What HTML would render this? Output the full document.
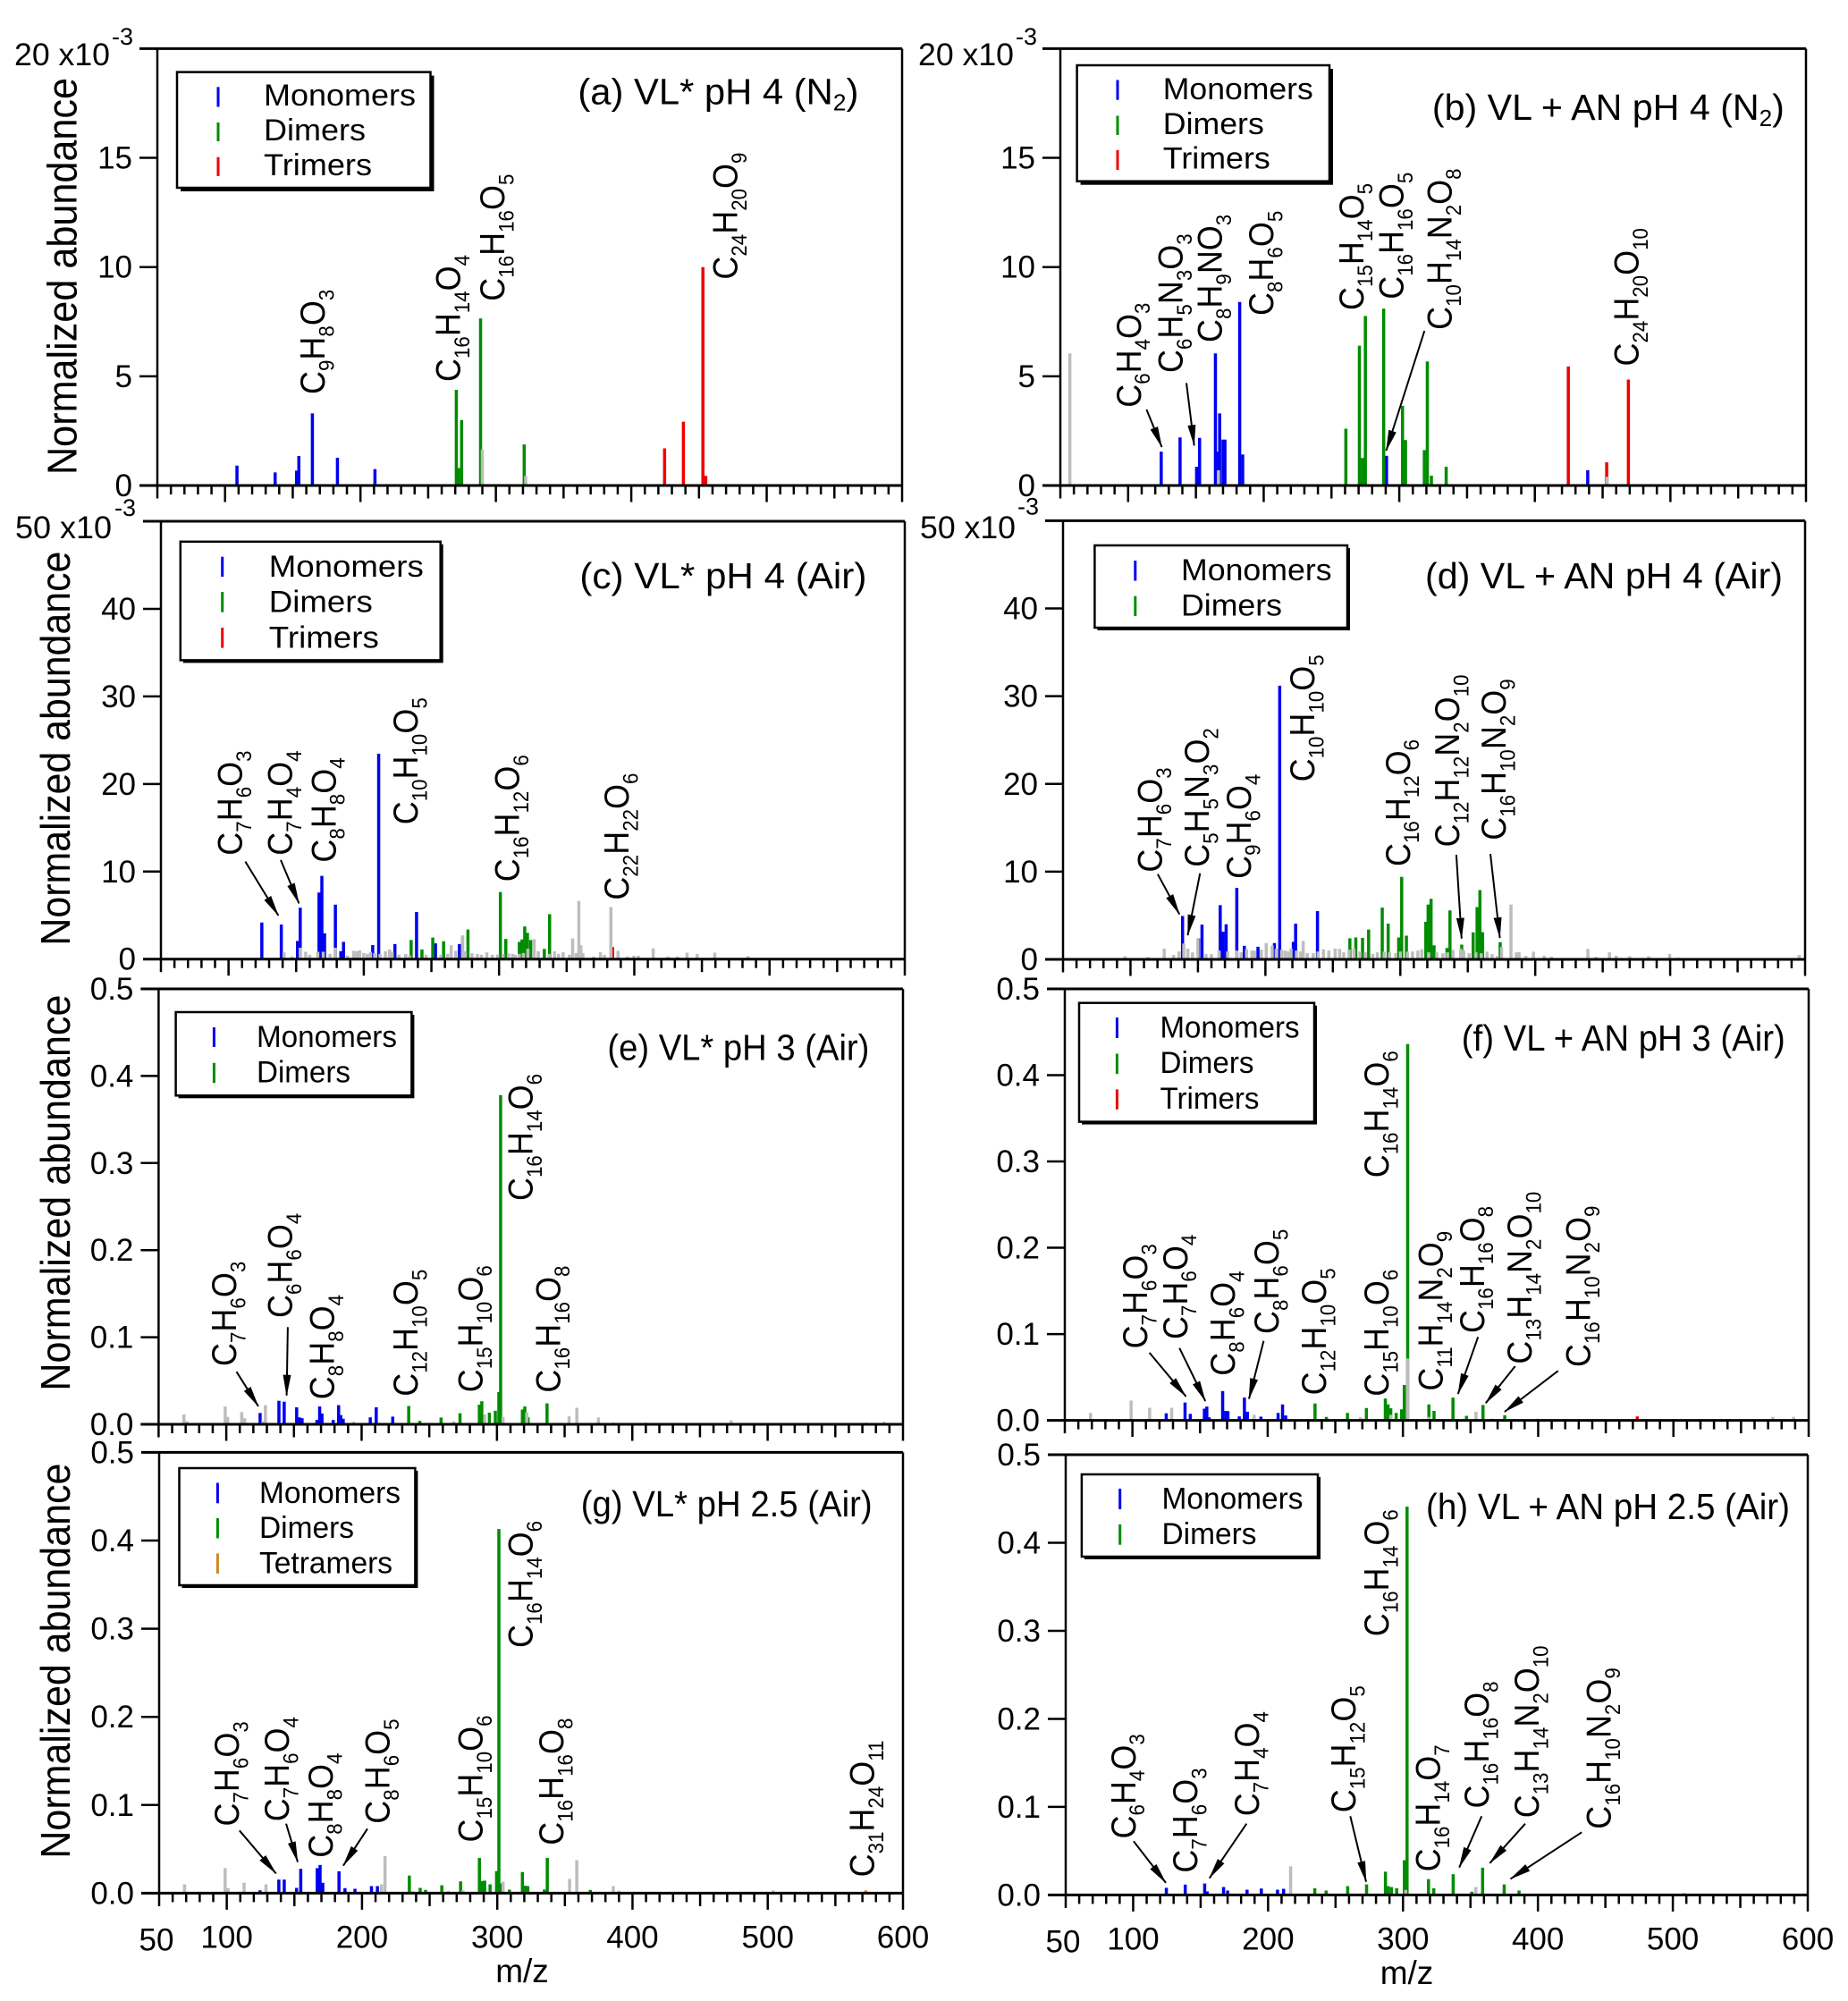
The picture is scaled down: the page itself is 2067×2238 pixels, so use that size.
<!DOCTYPE html>
<html lang="en">
<head>
<meta charset="utf-8">
<title>Normalized abundance mass spectra</title>
<style>
html,body{margin:0;padding:0;background:#fff}
svg{display:block}
text{font-family:"Liberation Sans",sans-serif;fill:#000}
.f{font-size:39px}
.s{font-size:24.2px;baseline-shift:-10px}
.lg{font-size:34px}
.t{font-size:41px}
.ts{font-size:26px;baseline-shift:-7px}
.ax{font-size:46px}
.top{font-size:35px}
.sup{font-size:27px}
.box{fill:#fff;stroke:#000;stroke-width:2.5}
.shadow{fill:#000}
.ar{stroke:#000;stroke-width:2;marker-end:url(#arrowhead)}
.mk{stroke-width:3}
</style>
</head>
<body>
<svg xmlns="http://www.w3.org/2000/svg" width="2067" height="2238" viewBox="0 0 2067 2238">
<defs><marker id="arrowhead" markerUnits="userSpaceOnUse" markerWidth="24" markerHeight="10" refX="23" refY="5" orient="auto"><polygon points="0,0.5 24,5 0,9.5"/></marker></defs>
<rect width="2067" height="2238" fill="#fff"/>
<g id="marks"></g>

<!-- Axis titles -->
<text class="ax" transform="translate(85.7 531) rotate(-90)" textLength="444" lengthAdjust="spacingAndGlyphs">Normalized abundance</text>
<text class="ax" transform="translate(77.8 1057.6) rotate(-90)" textLength="441" lengthAdjust="spacingAndGlyphs">Normalized abundance</text>
<text class="ax" transform="translate(77.8 1555.6) rotate(-90)" textLength="443" lengthAdjust="spacingAndGlyphs">Normalized abundance</text>
<text class="ax" transform="translate(77.8 2078.6) rotate(-90)" textLength="442" lengthAdjust="spacingAndGlyphs">Normalized abundance</text>
<text x="584" y="2217" font-size="37" text-anchor="middle">m/z</text>
<text x="1573.5" y="2219" font-size="37" text-anchor="middle">m/z</text>

<!-- Top-of-axis multipliers -->
<g><text class="top" x="16" y="73" textLength="107" lengthAdjust="spacingAndGlyphs">20 x10</text><text class="sup" x="125" y="50">-3</text></g>
<g><text class="top" x="1027" y="73" textLength="107" lengthAdjust="spacingAndGlyphs">20 x10</text><text class="sup" x="1136" y="50">-3</text></g>
<g><text class="top" x="17" y="602" textLength="108" lengthAdjust="spacingAndGlyphs">50 x10</text><text class="sup" x="128" y="577">-3</text></g>
<g><text class="top" x="1029" y="602" textLength="107" lengthAdjust="spacingAndGlyphs">50 x10</text><text class="sup" x="1138" y="575.5">-3</text></g>

<!-- Panel titles -->
<text class="t" x="646.4" y="116.5" textLength="314" lengthAdjust="spacingAndGlyphs">(a) VL* pH 4 (N<tspan class="ts">2</tspan>)</text>
<text class="t" x="1601.9" y="134" textLength="394" lengthAdjust="spacingAndGlyphs">(b) VL + AN pH 4 (N<tspan class="ts">2</tspan>)</text>
<text class="t" x="648.4" y="658" textLength="321" lengthAdjust="spacingAndGlyphs">(c) VL* pH 4 (Air)</text>
<text class="t" x="1594" y="658" textLength="400" lengthAdjust="spacingAndGlyphs">(d) VL + AN pH 4 (Air)</text>
<text class="t" x="679.4" y="1185.7" textLength="293" lengthAdjust="spacingAndGlyphs">(e) VL* pH 3 (Air)</text>
<text class="t" x="1634.8" y="1175" textLength="362" lengthAdjust="spacingAndGlyphs">(f) VL + AN pH 3 (Air)</text>
<text class="t" x="649.7" y="1696" textLength="326" lengthAdjust="spacingAndGlyphs">(g) VL* pH 2.5 (Air)</text>
<text class="t" x="1595" y="1699" textLength="407" lengthAdjust="spacingAndGlyphs">(h) VL + AN pH 2.5 (Air)</text>

<!-- Legends -->
<g>
<rect class="shadow" x="202" y="84.6" width="283.5" height="129.4"/><rect class="box" x="198" y="80.6" width="283.5" height="129.4"/>
<line class="mk" x1="244" x2="244" y1="97.3" y2="119.5" stroke="#0000f0"/><text class="lg" x="295" y="118" textLength="170" lengthAdjust="spacingAndGlyphs">Monomers</text>
<line class="mk" x1="244" x2="244" y1="137" y2="158" stroke="#008c00"/><text class="lg" x="295" y="157" textLength="114" lengthAdjust="spacingAndGlyphs">Dimers</text>
<line class="mk" x1="244" x2="244" y1="175.7" y2="197" stroke="#f00000"/><text class="lg" x="295" y="196" textLength="121" lengthAdjust="spacingAndGlyphs">Trimers</text>
</g>
<g>
<rect class="shadow" x="1208.6" y="77" width="282.4" height="129.7"/><rect class="box" x="1204.6" y="73" width="282.4" height="129.7"/>
<line class="mk" x1="1250" x2="1250" y1="89.5" y2="111.7" stroke="#0000f0"/><text class="lg" x="1300.8" y="111" textLength="168" lengthAdjust="spacingAndGlyphs">Monomers</text>
<line class="mk" x1="1250" x2="1250" y1="129.5" y2="151" stroke="#008c00"/><text class="lg" x="1300.8" y="150" textLength="113" lengthAdjust="spacingAndGlyphs">Dimers</text>
<line class="mk" x1="1250" x2="1250" y1="168" y2="190" stroke="#f00000"/><text class="lg" x="1300.8" y="188.7" textLength="120" lengthAdjust="spacingAndGlyphs">Trimers</text>
</g>
<g>
<rect class="shadow" x="204.8" y="608.8" width="290.9" height="132.6"/><rect class="box" x="201.8" y="605.8" width="290.9" height="132.6"/>
<line class="mk" x1="248.7" x2="248.7" y1="622.7" y2="645" stroke="#0000f0"/><text class="lg" x="300.8" y="645" textLength="173" lengthAdjust="spacingAndGlyphs">Monomers</text>
<line class="mk" x1="248.7" x2="248.7" y1="662" y2="684.7" stroke="#008c00"/><text class="lg" x="300.8" y="684.7" textLength="116" lengthAdjust="spacingAndGlyphs">Dimers</text>
<line class="mk" x1="248.7" x2="248.7" y1="702" y2="724.6" stroke="#f00000"/><text class="lg" x="300.8" y="724.3" textLength="123" lengthAdjust="spacingAndGlyphs">Trimers</text>
</g>
<g>
<rect class="shadow" x="1227.4" y="613" width="282.6" height="92"/><rect class="box" x="1224.4" y="610" width="282.6" height="92"/>
<line class="mk" x1="1269.8" x2="1269.8" y1="627" y2="649.5" stroke="#0000f0"/><text class="lg" x="1321" y="648.8" textLength="168.6" lengthAdjust="spacingAndGlyphs">Monomers</text>
<line class="mk" x1="1269.8" x2="1269.8" y1="666.7" y2="689" stroke="#008c00"/><text class="lg" x="1321" y="688.4" textLength="113" lengthAdjust="spacingAndGlyphs">Dimers</text>
</g>
<g>
<rect class="shadow" x="199.6" y="1135" width="263.8" height="93.3"/><rect class="box" x="196.6" y="1132" width="263.8" height="93.3"/>
<line class="mk" x1="239.4" x2="239.4" y1="1149" y2="1171" stroke="#0000f0"/><text class="lg" x="287" y="1171" textLength="157" lengthAdjust="spacingAndGlyphs">Monomers</text>
<line class="mk" x1="239.4" x2="239.4" y1="1188.8" y2="1211.2" stroke="#008c00"/><text class="lg" x="287" y="1210.5" textLength="105" lengthAdjust="spacingAndGlyphs">Dimers</text>
</g>
<g>
<rect class="shadow" x="1210" y="1124.7" width="263" height="132.9"/><rect class="box" x="1207" y="1121.7" width="263" height="132.9"/>
<line class="mk" x1="1249.4" x2="1249.4" y1="1138" y2="1161" stroke="#0000f0"/><text class="lg" x="1297.5" y="1160.6" textLength="156" lengthAdjust="spacingAndGlyphs">Monomers</text>
<line class="mk" x1="1249.4" x2="1249.4" y1="1178.5" y2="1201" stroke="#008c00"/><text class="lg" x="1297.5" y="1200.2" textLength="105" lengthAdjust="spacingAndGlyphs">Dimers</text>
<line class="mk" x1="1249.4" x2="1249.4" y1="1218.4" y2="1240.8" stroke="#f00000"/><text class="lg" x="1297.5" y="1240" textLength="111" lengthAdjust="spacingAndGlyphs">Trimers</text>
</g>
<g>
<rect class="shadow" x="203.5" y="1645" width="263.9" height="131"/><rect class="box" x="200.5" y="1642" width="263.9" height="131"/>
<line class="mk" x1="243.4" x2="243.4" y1="1658.5" y2="1681.3" stroke="#0000f0"/><text class="lg" x="290" y="1681" textLength="158" lengthAdjust="spacingAndGlyphs">Monomers</text>
<line class="mk" x1="243.4" x2="243.4" y1="1698" y2="1720.5" stroke="#008c00"/><text class="lg" x="290" y="1720" textLength="106" lengthAdjust="spacingAndGlyphs">Dimers</text>
<line class="mk" x1="243.4" x2="243.4" y1="1737.4" y2="1760" stroke="#cc8a1e"/><text class="lg" x="290" y="1759.4" textLength="149" lengthAdjust="spacingAndGlyphs">Tetramers</text>
</g>
<g>
<rect class="shadow" x="1212.9" y="1652" width="264.1" height="92"/><rect class="box" x="1209.9" y="1649" width="264.1" height="92"/>
<line class="mk" x1="1252.7" x2="1252.7" y1="1665" y2="1688" stroke="#0000f0"/><text class="lg" x="1299.5" y="1687.3" textLength="158" lengthAdjust="spacingAndGlyphs">Monomers</text>
<line class="mk" x1="1252.7" x2="1252.7" y1="1705" y2="1727.7" stroke="#008c00"/><text class="lg" x="1299.5" y="1727" textLength="106" lengthAdjust="spacingAndGlyphs">Dimers</text>
</g>

<!-- Formula labels: panel a -->
<text class="f" transform="translate(363 441) rotate(-90) scale(.923 1)">C<tspan class="s">9</tspan>H<tspan class="s">8</tspan>O<tspan class="s">3</tspan></text>
<text class="f" transform="translate(514.5 427) rotate(-90) scale(.923 1)">C<tspan class="s">16</tspan>H<tspan class="s">14</tspan>O<tspan class="s">4</tspan></text>
<text class="f" transform="translate(564 336.7) rotate(-90) scale(.923 1)">C<tspan class="s">16</tspan>H<tspan class="s">16</tspan>O<tspan class="s">5</tspan></text>
<text class="f" transform="translate(824.5 312.6) rotate(-90) scale(.923 1)">C<tspan class="s">24</tspan>H<tspan class="s">20</tspan>O<tspan class="s">9</tspan></text>

<!-- panel b -->
<text class="f" transform="translate(1275.8 455.8) rotate(-90) scale(.923 1)">C<tspan class="s">6</tspan>H<tspan class="s">4</tspan>O<tspan class="s">3</tspan></text>
<text class="f" transform="translate(1322.5 417) rotate(-90) scale(.923 1)">C<tspan class="s">6</tspan>H<tspan class="s">5</tspan>N<tspan class="s">3</tspan>O<tspan class="s">3</tspan></text>
<text class="f" transform="translate(1366.7 383) rotate(-90) scale(.923 1)">C<tspan class="s">8</tspan>H<tspan class="s">9</tspan>NO<tspan class="s">3</tspan></text>
<text class="f" transform="translate(1424 353) rotate(-90) scale(.923 1)">C<tspan class="s">8</tspan>H<tspan class="s">6</tspan>O<tspan class="s">5</tspan></text>
<text class="f" transform="translate(1524.8 347) rotate(-90) scale(.923 1)">C<tspan class="s">15</tspan>H<tspan class="s">14</tspan>O<tspan class="s">5</tspan></text>
<text class="f" transform="translate(1569.6 334.8) rotate(-90) scale(.923 1)">C<tspan class="s">16</tspan>H<tspan class="s">16</tspan>O<tspan class="s">5</tspan></text>
<text class="f" transform="translate(1623.6 368.9) rotate(-90) scale(.923 1)">C<tspan class="s">10</tspan>H<tspan class="s">14</tspan>N<tspan class="s">2</tspan>O<tspan class="s">8</tspan></text>
<text class="f" transform="translate(1832.4 409.5) rotate(-90) scale(.923 1)">C<tspan class="s">24</tspan>H<tspan class="s">20</tspan>O<tspan class="s">10</tspan></text>
<line class="ar" x1="1282.4" y1="458" x2="1299.5" y2="500"/>
<line class="ar" x1="1327" y1="428.4" x2="1335.7" y2="498.3"/>
<line class="ar" x1="1593.3" y1="370" x2="1550.5" y2="504"/>

<!-- panel c -->
<text class="f" transform="translate(270.4 956.7) rotate(-90) scale(.923 1)">C<tspan class="s">7</tspan>H<tspan class="s">6</tspan>O<tspan class="s">3</tspan></text>
<text class="f" transform="translate(326.5 956.7) rotate(-90) scale(.923 1)">C<tspan class="s">7</tspan>H<tspan class="s">4</tspan>O<tspan class="s">4</tspan></text>
<text class="f" transform="translate(375.3 964.6) rotate(-90) scale(.923 1)">C<tspan class="s">8</tspan>H<tspan class="s">8</tspan>O<tspan class="s">4</tspan></text>
<text class="f" transform="translate(467 922.3) rotate(-90) scale(.923 1)">C<tspan class="s">10</tspan>H<tspan class="s">10</tspan>O<tspan class="s">5</tspan></text>
<text class="f" transform="translate(580.5 986.3) rotate(-90) scale(.923 1)">C<tspan class="s">16</tspan>H<tspan class="s">12</tspan>O<tspan class="s">6</tspan></text>
<text class="f" transform="translate(703 1006.6) rotate(-90) scale(.923 1)">C<tspan class="s">22</tspan>H<tspan class="s">22</tspan>O<tspan class="s">6</tspan></text>
<line class="ar" x1="274.4" y1="963.6" x2="311.3" y2="1023.9"/>
<line class="ar" x1="314" y1="961.9" x2="334.4" y2="1010.4"/>

<!-- panel d -->
<text class="f" transform="translate(1299.5 975.6) rotate(-90) scale(.923 1)">C<tspan class="s">7</tspan>H<tspan class="s">6</tspan>O<tspan class="s">3</tspan></text>
<text class="f" transform="translate(1352 969.8) rotate(-90) scale(.923 1)">C<tspan class="s">5</tspan>H<tspan class="s">5</tspan>N<tspan class="s">3</tspan>O<tspan class="s">2</tspan></text>
<text class="f" transform="translate(1399 982.9) rotate(-90) scale(.923 1)">C<tspan class="s">9</tspan>H<tspan class="s">6</tspan>O<tspan class="s">4</tspan></text>
<text class="f" transform="translate(1470 874.4) rotate(-90) scale(.923 1)">C<tspan class="s">10</tspan>H<tspan class="s">10</tspan>O<tspan class="s">5</tspan></text>
<text class="f" transform="translate(1576.8 969) rotate(-90) scale(.923 1)">C<tspan class="s">16</tspan>H<tspan class="s">12</tspan>O<tspan class="s">6</tspan></text>
<text class="f" transform="translate(1632 947.4) rotate(-90) scale(.923 1)">C<tspan class="s">12</tspan>H<tspan class="s">12</tspan>N<tspan class="s">2</tspan>O<tspan class="s">10</tspan></text>
<text class="f" transform="translate(1684 939.8) rotate(-90) scale(.923 1)">C<tspan class="s">16</tspan>H<tspan class="s">10</tspan>N<tspan class="s">2</tspan>O<tspan class="s">9</tspan></text>
<line class="ar" x1="1294.9" y1="977.7" x2="1319.2" y2="1022.5"/>
<line class="ar" x1="1342.3" y1="976.7" x2="1328.5" y2="1046"/>
<line class="ar" x1="1628.9" y1="956" x2="1634.8" y2="1049.7"/>
<line class="ar" x1="1667" y1="955" x2="1677.6" y2="1049"/>

<!-- panel e -->
<text class="f" transform="translate(263.9 1528) rotate(-90) scale(.923 1)">C<tspan class="s">7</tspan>H<tspan class="s">6</tspan>O<tspan class="s">3</tspan></text>
<text class="f" transform="translate(326.5 1474) rotate(-90) scale(.923 1)">C<tspan class="s">6</tspan>H<tspan class="s">6</tspan>O<tspan class="s">4</tspan></text>
<text class="f" transform="translate(373.4 1565.2) rotate(-90) scale(.923 1)">C<tspan class="s">8</tspan>H<tspan class="s">8</tspan>O<tspan class="s">4</tspan></text>
<text class="f" transform="translate(467 1561.8) rotate(-90) scale(.923 1)">C<tspan class="s">12</tspan>H<tspan class="s">10</tspan>O<tspan class="s">5</tspan></text>
<text class="f" transform="translate(539.6 1557.3) rotate(-90) scale(.923 1)">C<tspan class="s">15</tspan>H<tspan class="s">10</tspan>O<tspan class="s">6</tspan></text>
<text class="f" transform="translate(595.6 1343) rotate(-90) scale(.923 1)">C<tspan class="s">16</tspan>H<tspan class="s">14</tspan>O<tspan class="s">6</tspan></text>
<text class="f" transform="translate(626.6 1557.6) rotate(-90) scale(.923 1)">C<tspan class="s">16</tspan>H<tspan class="s">16</tspan>O<tspan class="s">8</tspan></text>
<line class="ar" x1="264.5" y1="1534.2" x2="288.9" y2="1572.8"/>
<line class="ar" x1="321.9" y1="1484.3" x2="320.6" y2="1560.7"/>

<!-- panel f -->
<text class="f" transform="translate(1283 1508.4) rotate(-90) scale(.923 1)">C<tspan class="s">7</tspan>H<tspan class="s">6</tspan>O<tspan class="s">3</tspan></text>
<text class="f" transform="translate(1327.8 1498) rotate(-90) scale(.923 1)">C<tspan class="s">7</tspan>H<tspan class="s">6</tspan>O<tspan class="s">4</tspan></text>
<text class="f" transform="translate(1381 1538.7) rotate(-90) scale(.923 1)">C<tspan class="s">8</tspan>H<tspan class="s">6</tspan>O<tspan class="s">4</tspan></text>
<text class="f" transform="translate(1430 1492) rotate(-90) scale(.923 1)">C<tspan class="s">8</tspan>H<tspan class="s">6</tspan>O<tspan class="s">5</tspan></text>
<text class="f" transform="translate(1483 1560.4) rotate(-90) scale(.923 1)">C<tspan class="s">12</tspan>H<tspan class="s">10</tspan>O<tspan class="s">5</tspan></text>
<text class="f" transform="translate(1553 1561.8) rotate(-90) scale(.923 1)">C<tspan class="s">15</tspan>H<tspan class="s">10</tspan>O<tspan class="s">6</tspan></text>
<text class="f" transform="translate(1553 1317.3) rotate(-90) scale(.923 1)">C<tspan class="s">16</tspan>H<tspan class="s">14</tspan>O<tspan class="s">6</tspan></text>
<text class="f" transform="translate(1613.7 1555.6) rotate(-90) scale(.923 1)">C<tspan class="s">11</tspan>H<tspan class="s">14</tspan>N<tspan class="s">2</tspan>O<tspan class="s">9</tspan></text>
<text class="f" transform="translate(1659.8 1491) rotate(-90) scale(.923 1)">C<tspan class="s">16</tspan>H<tspan class="s">16</tspan>O<tspan class="s">8</tspan></text>
<text class="f" transform="translate(1713 1525.6) rotate(-90) scale(.923 1)">C<tspan class="s">13</tspan>H<tspan class="s">14</tspan>N<tspan class="s">2</tspan>O<tspan class="s">10</tspan></text>
<text class="f" transform="translate(1778.4 1529) rotate(-90) scale(.923 1)">C<tspan class="s">16</tspan>H<tspan class="s">10</tspan>N<tspan class="s">2</tspan>O<tspan class="s">9</tspan></text>
<line class="ar" x1="1285.6" y1="1512.9" x2="1326.5" y2="1561.8"/>
<line class="ar" x1="1319.2" y1="1507.7" x2="1348.2" y2="1567"/>
<line class="ar" x1="1413.4" y1="1499.8" x2="1397" y2="1564.5"/>
<line class="ar" x1="1653.2" y1="1495.3" x2="1630.8" y2="1559"/>
<line class="ar" x1="1694.7" y1="1528" x2="1661.8" y2="1569.3"/>
<line class="ar" x1="1742.8" y1="1533.2" x2="1682.9" y2="1579"/>

<!-- panel g -->
<text class="f" transform="translate(267 2042.5) rotate(-90) scale(.923 1)">C<tspan class="s">7</tspan>H<tspan class="s">6</tspan>O<tspan class="s">3</tspan></text>
<text class="f" transform="translate(323 2037.3) rotate(-90) scale(.923 1)">C<tspan class="s">7</tspan>H<tspan class="s">6</tspan>O<tspan class="s">4</tspan></text>
<text class="f" transform="translate(372 2077.8) rotate(-90) scale(.923 1)">C<tspan class="s">8</tspan>H<tspan class="s">8</tspan>O<tspan class="s">4</tspan></text>
<text class="f" transform="translate(435.4 2039.7) rotate(-90) scale(.923 1)">C<tspan class="s">8</tspan>H<tspan class="s">6</tspan>O<tspan class="s">5</tspan></text>
<text class="f" transform="translate(539.6 2060.5) rotate(-90) scale(.923 1)">C<tspan class="s">15</tspan>H<tspan class="s">10</tspan>O<tspan class="s">6</tspan></text>
<text class="f" transform="translate(595.6 1843) rotate(-90) scale(.923 1)">C<tspan class="s">16</tspan>H<tspan class="s">14</tspan>O<tspan class="s">6</tspan></text>
<text class="f" transform="translate(630 2063.7) rotate(-90) scale(.923 1)">C<tspan class="s">16</tspan>H<tspan class="s">16</tspan>O<tspan class="s">8</tspan></text>
<text class="f" transform="translate(977.6 2099.4) rotate(-90) scale(.923 1)">C<tspan class="s">31</tspan>H<tspan class="s">24</tspan>O<tspan class="s">11</tspan></text>
<line class="ar" x1="267.8" y1="2047.3" x2="308.7" y2="2095.4"/>
<line class="ar" x1="320" y1="2039.7" x2="333" y2="2082.6"/>
<line class="ar" x1="411" y1="2045.3" x2="384" y2="2086.6"/>

<!-- panel h -->
<text class="f" transform="translate(1269.8 2056.5) rotate(-90) scale(.923 1)">C<tspan class="s">6</tspan>H<tspan class="s">4</tspan>O<tspan class="s">3</tspan></text>
<text class="f" transform="translate(1339 2094.6) rotate(-90) scale(.923 1)">C<tspan class="s">7</tspan>H<tspan class="s">6</tspan>O<tspan class="s">3</tspan></text>
<text class="f" transform="translate(1408 2031.3) rotate(-90) scale(.923 1)">C<tspan class="s">7</tspan>H<tspan class="s">4</tspan>O<tspan class="s">4</tspan></text>
<text class="f" transform="translate(1516 2027.3) rotate(-90) scale(.923 1)">C<tspan class="s">15</tspan>H<tspan class="s">12</tspan>O<tspan class="s">5</tspan></text>
<text class="f" transform="translate(1553 1830.3) rotate(-90) scale(.923 1)">C<tspan class="s">16</tspan>H<tspan class="s">14</tspan>O<tspan class="s">6</tspan></text>
<text class="f" transform="translate(1610.4 2093.4) rotate(-90) scale(.923 1)">C<tspan class="s">16</tspan>H<tspan class="s">14</tspan>O<tspan class="s">7</tspan></text>
<text class="f" transform="translate(1665 2022.5) rotate(-90) scale(.923 1)">C<tspan class="s">16</tspan>H<tspan class="s">16</tspan>O<tspan class="s">8</tspan></text>
<text class="f" transform="translate(1721 2033.3) rotate(-90) scale(.923 1)">C<tspan class="s">13</tspan>H<tspan class="s">14</tspan>N<tspan class="s">2</tspan>O<tspan class="s">10</tspan></text>
<text class="f" transform="translate(1801.4 2045.7) rotate(-90) scale(.923 1)">C<tspan class="s">16</tspan>H<tspan class="s">10</tspan>N<tspan class="s">2</tspan>O<tspan class="s">9</tspan></text>
<line class="ar" x1="1267.9" y1="2059.3" x2="1304" y2="2105.8"/>
<line class="ar" x1="1394.3" y1="2039.7" x2="1352.8" y2="2100.6"/>
<line class="ar" x1="1510.3" y1="2031.3" x2="1528" y2="2104.6"/>
<line class="ar" x1="1657.2" y1="2031.3" x2="1632.2" y2="2088.6"/>
<line class="ar" x1="1706" y1="2039.7" x2="1666.4" y2="2083.8"/>
<line class="ar" x1="1769.2" y1="2049.3" x2="1689.5" y2="2101.4"/>
</svg>

<script>
// Shared tick labels
const xMajorLabels = ['50','100','200','300','400','500','600'];
const yTicksLow = ['0','5','10','15'];
const yTicksMid = ['0','10','20','30','40'];
const yTicksHigh = ['0.0','0.1','0.2','0.3','0.4','0.5'];

// Panel a (units of 10^-3)
const aMonomerMz = [108.8,137,152.8,154.5,164.5,183,210.7];
const aMonomerAbundance = [0.91,0.6,0.68,1.35,3.3,1.27,0.75];
const aDimerMz = [270.8,272.5,274.7,288.7,320.9];
const aDimerAbundance = [4.38,0.8,3.0,7.65,1.88];
const aTrimerMz = [424.6,438.5,452.9,455];
const aTrimerAbundance = [1.7,2.92,10,0.44];
const aOtherMz = [290,322];
const aOtherAbundance = [1.65,0.44];

// Panel b (units of 10^-3)
const bMonomerMz = [124.4,138.3,150.5,152.7,164.4,165.8,167.5,170,171.4,182.3,184.5,290.6,439];
const bMonomerAbundance = [1.55,2.2,0.86,2.18,6.05,1.55,3.3,2.1,2.1,8.4,1.42,1.36,0.7];
const bDimerMz = [260.6,270.6,272.8,275,288.5,302.4,304.6,318.5,320.7,323.7,334.6];
const bDimerAbundance = [2.6,6.4,1.26,7.76,8.1,3.65,2.08,1.62,5.68,0.45,0.86];
const bTrimerMz = [424.7,453,469];
const bTrimerAbundance = [5.45,1.06,4.85];
const bOtherMz = [57,166.6,453.4];
const bOtherAbundance = [6.05,0.7,0.4];

// Panel c (units of 10^-3)
const cMonomerMz = [124.6,139,151,153,166.9,169,171,179,183,185,206.6,211,223,239,253,270.7];
const cMonomerAbundance = [4.18,3.94,2.07,5.87,7.6,9.5,2.95,6.22,0.9,1.97,1.6,23.45,1.72,5.38,1.8,1.72];
const cDimerMz = [235,243,251,259,273,277,301,305,315,317,319,321,323.4,333.5,337.4];
const cDimerAbundance = [2.18,1.1,2.46,2.04,2.67,3.38,7.66,2.3,1.97,2.25,3.73,3,2.18,1.16,5.13];
const cTrimerMz = [384];
const cTrimerAbundance = [1.37];
const cOtherMz = [141,147,153,157,160,166,170,175,179,188,192.6,195,197,200,202.6,205,208,212,216,219,221,226,231,234,246,257,262,264.6,268,273,275,280,284,287,291,295,299,303,307,310,312,315,318,321.3,326,329,337,341,344,347.4,352,354.4,357,359,360.5,362,370,375,378,382.7,388,395,399.7,403,414,425,432,439,446.5,459.5,484];
const cOtherAbundance = [0.77,0.3,1.3,0.84,0.5,0.84,0.84,0.6,1.3,0.4,0.95,0.9,1,0.7,0.6,0.8,0.67,0.6,0.9,1.1,0.84,0.5,0.6,0.4,0.5,0.5,0.6,1.58,0.95,2.7,0.9,0.67,0.6,0.5,0.77,0.5,0.5,0.6,0.67,0.6,0.5,0.6,0.7,1.2,2.28,0.9,0.6,0.88,0.6,0.8,0.5,2.36,0.7,6.65,1.58,0.7,0.3,0.8,0.5,5.94,0.95,0.3,0.4,0.4,1.23,0.3,0.3,0.74,0.6,0.74,0.35];

// Panel d (units of 10^-3)
const dMonomerMz = [138.6,150.4,153,166.5,168.7,170.9,178.8,184.4,194.5,206.7,210.6,220.7,222.4,238.6];
const dMonomerAbundance = [4.95,2.4,3.96,6.18,3.16,4,8.14,1.54,1.44,1.86,31.2,2,4.07,5.5];
const dDimerMz = [262.6,267,272,276.5,286.6,291,298.8,301,304.5,318.9,320.6,322.8,325,334.6,336.8,345.5,354,356.9,359,361,374];
const dDimerAbundance = [2.4,2.5,2.45,3.4,5.9,4.07,2.5,9.4,2.7,4.28,6.25,6.9,1.6,1.3,5.58,1.68,3.08,5.96,7.9,3.1,1.96];
const dOtherMz = [96,113,125,132,136,139.5,142.5,146,150,156,160,165.7,172,178.8,182,186,190,192,197,200.6,205,208,212,214.6,217,219,223,226,228,231,235.5,239,243,247,251.7,255,258,262,265.6,270,274,279.6,283,288,292,296.6,300,305.3,309,313,316,321,327,331.6,335,339,344.7,347,351,356,360,364.3,368,372,375,382,386,388,393,398.7,406.6,412,439,445,455,460,470,484,499.6,506,595.6];
const dOtherAbundance = [0.35,0.28,1.23,0.5,0.9,1.8,1.23,0.8,2.4,0.6,0.6,1,0.9,1,0.8,1.15,1,1,1.1,1.86,1.58,1.2,1.1,1,0.9,1.23,1,0.9,2.1,0.7,0.7,0.9,1.15,1,1.23,1.2,0.8,1.12,1.23,0.9,0.8,0.63,0.8,0.88,0.8,0.7,0.9,0.88,0.9,1,1.15,0.8,0.8,0.7,0.8,1.1,1.23,1,0.7,0.8,0.7,0.88,0.6,0.4,1.4,6.25,0.8,0.84,0.4,0.88,0.42,0.3,1.2,0.3,0.8,0.42,0.35,0.35,0.63,0.2,0.5];

// Panel e
const eMonomerMz = [125,138.9,142.8,152,154,156,167,169,170.7,179,183,184.6,186.4,206.4,210.8,223];
const eMonomerAbundance = [0.013,0.027,0.026,0.0195,0.008,0.007,0.005,0.0205,0.0124,0.005,0.022,0.0106,0.0064,0.008,0.0195,0.0088];
const eDimerMz = [234.8,243,258.7,272.7,287,288.8,294.4,298.8,301.4,302.7,318.8,320.6,323,337];
const eDimerAbundance = [0.021,0.004,0.0078,0.0127,0.0226,0.0265,0.0134,0.0156,0.037,0.378,0.017,0.0205,0.008,0.024];
const eOtherMz = [68.7,71,99.2,101,111.4,113.6,127,128.9,194,268,291,304.5,322,353.3,359,375,386,410,473,573,586];
const eOtherAbundance = [0.0113,0.0035,0.0205,0.0085,0.014,0.007,0.0035,0.022,0.003,0.0035,0.0113,0.0085,0.014,0.0092,0.019,0.0078,0.002,0.002,0.0046,0.002,0.003];

// Panel f
const fMonomerMz = [125,138.9,142.8,153.2,155,156.7,166.7,168.9,170.6,179,182.8,185,195,207.7,211,213.3];
const fMonomerAbundance = [0.0082,0.0207,0.0075,0.0136,0.016,0.0036,0.034,0.011,0.0107,0.0046,0.0264,0.01,0.0043,0.0086,0.0185,0.0057];
const fDimerMz = [235,243.4,259,273,287,289,291,295,299,301,303.5,319.2,323,337,347,359.2,375.3];
const fDimerAbundance = [0.0196,0.004,0.0086,0.0143,0.0253,0.0185,0.014,0.0086,0.0128,0.041,0.436,0.0185,0.011,0.0264,0.0053,0.0178,0.006];
const fTrimerMz = [473.3];
const fTrimerAbundance = [0.0046];
const fOtherMz = [69,99,112.7,129,190,268.6,291,303.5,319,354,366,399,573.5,588.8];
const fOtherAbundance = [0.0086,0.023,0.0146,0.0146,0.0064,0.0036,0.0064,0.0717,0.004,0.01,0.002,0.002,0.004,0.004];

// Panel g
const gMonomerMz = [124.6,138.5,142.5,151.6,154.7,166.9,169,171,183,187.4,194.8,207,211.4];
const gMonomerAbundance = [0.0032,0.0154,0.0154,0.006,0.0276,0.0284,0.032,0.0118,0.0248,0.0057,0.005,0.008,0.008];
const gDimerMz = [235,243,247,259,272.9,286.8,289,290.7,294.7,299.5,301.2,303,309,318.6,320.8,322.6,334.8,337,368.8];
const gDimerAbundance = [0.02,0.006,0.0037,0.009,0.0134,0.04,0.0138,0.0142,0.01,0.025,0.413,0.011,0.004,0.024,0.0085,0.008,0.004,0.04,0.0037];
const gTetramerMz = [572.5];
const gTetramerAbundance = [0.0032];
const gOtherMz = [68.8,98.8,101,112.8,129,214.4,217,237.5,263.7,274.6,304.3,353.5,358.8,385.8,390,504];
const gOtherAbundance = [0.01,0.0284,0.0057,0.0118,0.01,0.01,0.042,0.002,0.0024,0.0032,0.013,0.0162,0.0374,0.008,0.0028,0.0032];

// Panel h
const hMonomerMz = [124.6,138.6,153,154.8,167,170,184.4,195,207,211.5];
const hMonomerAbundance = [0.0081,0.0118,0.013,0.004,0.009,0.005,0.006,0.0073,0.006,0.007];
const hDimerMz = [234.6,243,259,273,287,289,291.4,295.3,301,303,318.9,322.8,337.2,351,359,375,386];
const hDimerAbundance = [0.0077,0.005,0.01,0.012,0.0264,0.01,0.009,0.0077,0.0394,0.441,0.018,0.0077,0.0236,0.0037,0.031,0.012,0.005];
const hOtherMz = [216.7,302,354,508];
const hOtherAbundance = [0.0325,0.0057,0.009,0.0024];

const seriesColor = {monomer:'#0000f0',dimer:'#008c00',trimer:'#f00000',tetramer:'#cc8a1e',other:'#bdbdbd'};

const panels = [
 {id:'a',left:176,right:1009,top:54.4,bottom:543,yMax:20,yTicks:yTicksLow,series:[['monomer',aMonomerMz,aMonomerAbundance],['dimer',aDimerMz,aDimerAbundance],['trimer',aTrimerMz,aTrimerAbundance],['other',aOtherMz,aOtherAbundance]]},
 {id:'b',left:1186,right:2020,top:54.4,bottom:543,yMax:20,yTicks:yTicksLow,series:[['monomer',bMonomerMz,bMonomerAbundance],['dimer',bDimerMz,bDimerAbundance],['trimer',bTrimerMz,bTrimerAbundance],['other',bOtherMz,bOtherAbundance]]},
 {id:'c',left:180,right:1012,top:583,bottom:1072.7,yMax:50,yTicks:yTicksMid,series:[['monomer',cMonomerMz,cMonomerAbundance],['dimer',cDimerMz,cDimerAbundance],['trimer',cTrimerMz,cTrimerAbundance],['other',cOtherMz,cOtherAbundance]]},
 {id:'d',left:1189,right:2019,top:582.4,bottom:1073,yMax:50,yTicks:yTicksMid,series:[['monomer',dMonomerMz,dMonomerAbundance],['dimer',dDimerMz,dDimerAbundance],['other',dOtherMz,dOtherAbundance]]},
 {id:'e',left:177.4,right:1010,top:1106,bottom:1593,yMax:0.5,yTicks:yTicksHigh,series:[['monomer',eMonomerMz,eMonomerAbundance],['dimer',eDimerMz,eDimerAbundance],['other',eOtherMz,eOtherAbundance]]},
 {id:'f',left:1191,right:2023,top:1106,bottom:1588.6,yMax:0.5,yTicks:yTicksHigh,series:[['monomer',fMonomerMz,fMonomerAbundance],['dimer',fDimerMz,fDimerAbundance],['trimer',fTrimerMz,fTrimerAbundance],['other',fOtherMz,fOtherAbundance]]},
 {id:'g',left:178,right:1010,top:1624.4,bottom:2117.4,yMax:0.5,yTicks:yTicksHigh,xLabels:xMajorLabels,series:[['monomer',gMonomerMz,gMonomerAbundance],['dimer',gDimerMz,gDimerAbundance],['tetramer',gTetramerMz,gTetramerAbundance],['other',gOtherMz,gOtherAbundance]]},
 {id:'h',left:1192,right:2022,top:1627,bottom:2119.4,yMax:0.5,yTicks:yTicksHigh,xLabels:xMajorLabels,series:[['monomer',hMonomerMz,hMonomerAbundance],['dimer',hDimerMz,hDimerAbundance],['other',hOtherMz,hOtherAbundance]]}
];

const NS = 'http://www.w3.org/2000/svg';
const root = document.getElementById('marks');
function make(tag, attrs, parent){
  const el = document.createElementNS(NS, tag);
  for (const k in attrs) el.setAttribute(k, attrs[k]);
  parent.appendChild(el);
  return el;
}
function xScale(p, mz){ return p.left + (mz - 50) / 550 * (p.right - p.left); }
function yScale(p, v){ return p.bottom - v / p.yMax * (p.bottom - p.top); }

panels.forEach(function(p){
  const g = make('g', {}, root);
  
  

  // bars
  p.series.forEach(function(s){
    const sg = make('g', {stroke: seriesColor[s[0]], 'stroke-width': 3.5}, g);
    
    
    s[1].forEach(function(mz, i){
      const bar = make('line', {x1: xScale(p, mz), x2: xScale(p, mz), y1: yScale(p, 0), y2: yScale(p, s[2][i])}, sg);
      
      
    });
  });

  // frame
  const frame = make('g', {stroke: '#000', 'stroke-width': 2.5}, g);
  
  
  make('line', {x1: p.left, x2: p.left, y1: p.top, y2: p.bottom}, frame);
  make('line', {x1: p.right, x2: p.right, y1: p.top, y2: p.bottom}, frame);
  make('line', {x1: p.left - 20, x2: p.right, y1: p.top, y2: p.top, 'stroke-width': 3}, frame);
  make('line', {x1: p.left - 20, x2: p.right, y1: p.bottom, y2: p.bottom, 'stroke-width': 3}, frame);

  // x ticks
  for (let mz = 50; mz <= 600; mz += 10) {
    const len = mz % 100 === 0 ? 18.5 : (mz % 50 === 0 ? 14.5 : 10);
    const tick = make('line', {x1: xScale(p, mz), x2: xScale(p, mz), y1: p.bottom, y2: p.bottom + len}, frame);
    
    
  }

  // y ticks and labels
  const labels = p.yTicks;
  labels.forEach(function(label){
    const v = parseFloat(label);
    const y = yScale(p, v);
    const tick = make('line', {x1: p.left - 20, x2: p.left, y1: y, y2: y}, frame);
    
    
    const t = make('text', {x: p.left - 28, y: y + 12, 'text-anchor': 'end', 'font-size': 35}, g);
    t.textContent = label;
    
    
  });

  // x tick labels
  if (p.xLabels) {
    p.xLabels.forEach(function(label){
      const mz = parseFloat(label);
      const low = label === '50' ? 3 : 0;
      const t = make('text', {x: xScale(p, mz) - low, y: p.bottom + 61 + low, 'text-anchor': 'middle', 'font-size': 35}, g);
      t.textContent = label;
      
      
    });
  }
});
</script>
</body>
</html>
